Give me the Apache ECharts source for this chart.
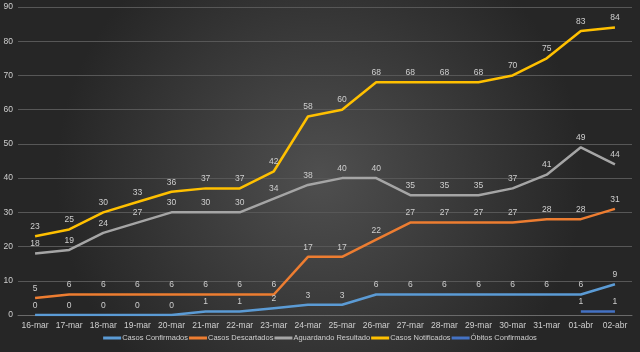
<!DOCTYPE html>
<html>
<head>
<meta charset="utf-8">
<script src="https://cdn.jsdelivr.net/npm/echarts@6/dist/echarts.min.js"></script>
<style>
  html, body { margin: 0; padding: 0; background: #333; }
  #chart { width: 640px; height: 352px; }
</style>
</head>
<body>
<div id="chart"></div>
<script>
// casos por dia
var dias = ['16-mar', '17-mar', '18-mar', '19-mar', '20-mar', '21-mar', '22-mar', '23-mar', '24-mar',
    '25-mar', '26-mar', '27-mar', '28-mar', '29-mar', '30-mar', '31-mar', '01-abr', '02-abr'];

var confirmados = [0, 0, 0, 0, 0, 1, 1, 2, 3, 3, 6, 6, 6, 6, 6, 6, 6, 9];
var descartados = [5, 6, 6, 6, 6, 6, 6, 6, 17, 17, 22, 27, 27, 27, 27, 28, 28, 31];
var aguardando = [18, 19, 24, 27, 30, 30, 30, 34, 38, 40, 40, 35, 35, 35, 37, 41, 49, 44];
var notificados = [23, 25, 30, 33, 36, 37, 37, 42, 58, 60, 68, 68, 68, 68, 70, 75, 83, 84];
var obitos = [null, null, null, null, null, null, null, null, null, null, null, null, null, null, null, null, 1, 1];

var nomes = ['Casos Confirmados', 'Casos Descartados', 'Aguardando Resultado', 'Casos Notificados', 'Óbitos Confirmados'];
var cores = ['#5B9BD5', '#ED7D31', '#A5A5A5', '#FFC000', '#4472C4'];
var dados = [confirmados, descartados, aguardando, notificados, obitos];

var fonte = "'Liberation Sans', sans-serif";

var chart = echarts.init(document.getElementById('chart'));

var series = dados.map(function (d, i) {
    return {
        name: nomes[i],
        type: 'line',
        data: d,
        symbol: 'circle',
        symbolSize: 0.1,
        showSymbol: true,
        lineStyle: { width: 2.5, color: cores[i] },
        itemStyle: { color: cores[i] },
        label: {
            show: true,
            position: 'top',
            distance: 5,
            color: '#cfcfcf',
            fontSize: 8.5,
            fontFamily: fonte
        }
    };
});

var option = {
    backgroundColor: {
        type: 'radial',
        x: 0.5, y: 0.5, r: 0.75,
        colorStops: [
            { offset: 0, color: '#4f4f4f' },
            { offset: 1, color: '#262626' }
        ]
    },
    color: cores,
    legend: {
        data: nomes,
        bottom: 5,
        left: 'center',
        itemWidth: 18,
        itemHeight: 3,
        itemGap: 1,
        icon: 'rect',
        textStyle: { color: '#cfcfcf', fontSize: 7.5, fontFamily: fonte, padding: [0, 0, 0, -4] }
    },
    grid: {
        left: 18,
        right: 8,
        top: 7,
        bottom: 37
    },
    xAxis: {
        type: 'category',
        data: dias,
        axisLine: { lineStyle: { color: '#6a6a6a' } },
        axisTick: { show: false },
        axisLabel: { color: '#cfcfcf', fontSize: 8.5, fontFamily: fonte, margin: 6, interval: 0 }
    },
    yAxis: {
        type: 'value',
        min: 0,
        max: 90,
        interval: 10,
        axisLine: { show: false },
        axisTick: { show: false },
        axisLabel: { color: '#cfcfcf', fontSize: 8.5, fontFamily: fonte, margin: 5 },
        splitLine: { lineStyle: { color: '#575757', width: 1 } }
    },
    series: series
};

chart.setOption(option);
</script>
</body>
</html>
